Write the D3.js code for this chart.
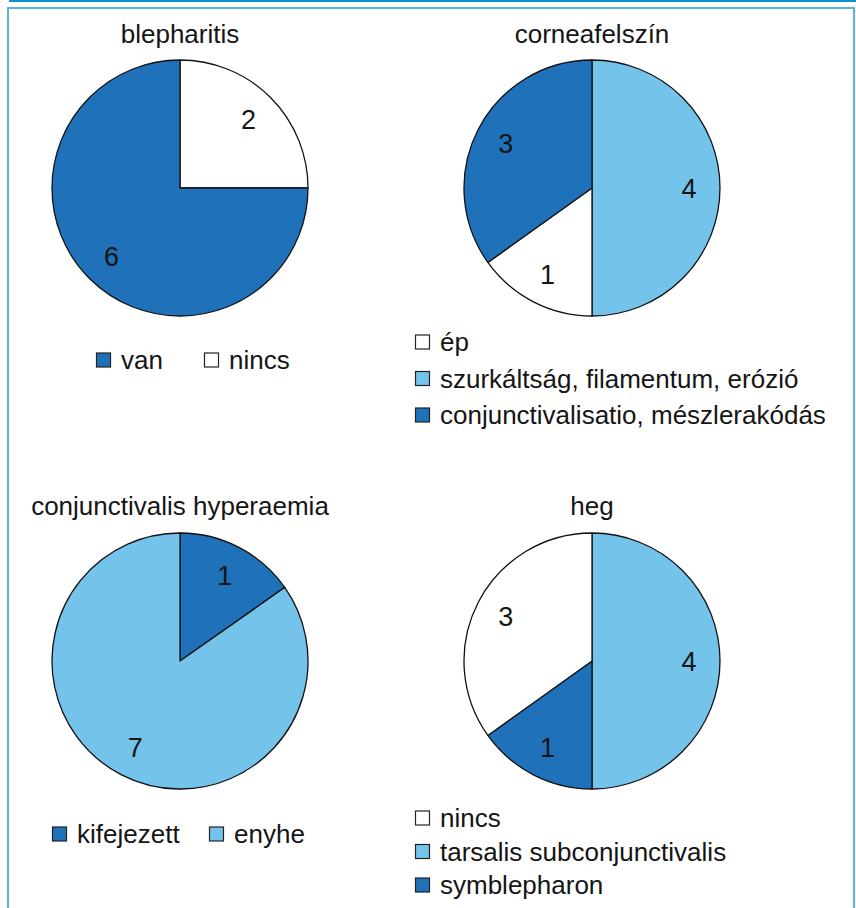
<!DOCTYPE html>
<html><head><meta charset="utf-8">
<script src="https://cdn.jsdelivr.net/npm/d3@7"></script>
<style>
body{margin:0;background:#fff}
svg{display:block}
text{font-family:"Liberation Sans",Arial,sans-serif;fill:#151515}
</style>
</head><body><script>
// ---- colours ----
const WHITE = "#ffffff", LIGHT = "#74c3eb", DARK = "#1f72b9";

// ---- data (slice order = clockwise from 12 o'clock) ----
const blephTitle = "blepharitis";
const blephCategories = ["nincs", "van"];
const blephCounts = [2, 6];
const blephShares = [2, 6];            // slice sizes as drawn in the picture
const blephColors = [WHITE, DARK];
const blephLegend = ["van", "nincs"];

const corneaTitle = "corneafelszín";
const corneaCategories = ["szurkáltság, filamentum, erózió", "ép", "conjunctivalisatio, mészlerakódás"];
const corneaCounts = [4, 1, 3];
const corneaShares = [4, 1.21, 2.79];
const corneaColors = [LIGHT, WHITE, DARK];
const corneaLegend = ["ép", "szurkáltság, filamentum, erózió", "conjunctivalisatio, mészlerakódás"];

const conjTitle = "conjunctivalis hyperaemia";
const conjCategories = ["kifejezett", "enyhe"];
const conjCounts = [1, 7];
const conjShares = [1.22, 6.78];
const conjColors = [DARK, LIGHT];
const conjLegend = ["kifejezett", "enyhe"];

const hegTitle = "heg";
const hegCategories = ["tarsalis subconjunctivalis", "symblepharon", "nincs"];
const hegCounts = [4, 1, 3];
const hegShares = [4, 1.21, 2.79];
const hegColors = [LIGHT, DARK, WHITE];
const hegLegend = ["nincs", "tarsalis subconjunctivalis", "symblepharon"];

// ---- layout ----
const W = 856, H = 908, R = 128;
const panels = [
  {title: blephTitle, cats: blephCategories, counts: blephCounts, shares: blephShares, colors: blephColors, legend: blephLegend,
   cx: 180, cy: 188, ty: 43, legendType: "row", lx: [96, 204], ly: 360},
  {title: corneaTitle, cats: corneaCategories, counts: corneaCounts, shares: corneaShares, colors: corneaColors, legend: corneaLegend,
   cx: 592, cy: 188, ty: 43, legendType: "col", lx: 415, ly: 342, lstep: 36.5},
  {title: conjTitle, cats: conjCategories, counts: conjCounts, shares: conjShares, colors: conjColors, legend: conjLegend,
   cx: 180, cy: 661, ty: 515, legendType: "row", lx: [52, 209], ly: 834},
  {title: hegTitle, cats: hegCategories, counts: hegCounts, shares: hegShares, colors: hegColors, legend: hegLegend,
   cx: 592, cy: 661, ty: 515, legendType: "col", lx: 415, ly: 818, lstep: 33.5}
];

const svg = d3.select("body").append("svg").attr("width", W).attr("height", H);

// frame
svg.append("rect").attr("x", 9).attr("y", 0).attr("width", W - 9).attr("height", 2).attr("fill", "#0e92cc");
svg.append("rect").attr("x", 8).attr("y", 8).attr("width", 846).attr("height", 960)
  .attr("fill", "none").attr("stroke", "#56b4de").attr("stroke-width", 2);

const arc = d3.arc().innerRadius(0).outerRadius(R);
const labelArc = d3.arc().innerRadius(97).outerRadius(97);

panels.forEach(p => {
  const rows = p.cats.map((c, i) => ({cat: c, count: p.counts[i], share: p.shares[i], color: p.colors[i]}));
  const pie = d3.pie().sort(null).value(d => d.share);
  const arcs = pie(rows);
  const color = d3.scaleOrdinal().domain(p.cats).range(p.colors);

  const g = svg.append("g").attr("transform", `translate(${p.cx},${p.cy})`);
  g.selectAll("path").data(arcs).join("path")
    .attr("d", arc)
    .attr("fill", d => color(d.data.cat))
    .attr("stroke", "#111").attr("stroke-width", 1.3).attr("stroke-linejoin", "round");
  g.selectAll("text").data(arcs).join("text")
    .attr("transform", d => `translate(${labelArc.centroid(d)})`)
    .attr("text-anchor", "middle").attr("dy", "0.36em")
    .attr("font-size", 27)
    .text(d => d.data.count);

  svg.append("text").attr("x", p.cx).attr("y", p.ty).attr("text-anchor", "middle")
    .attr("font-size", 26).text(p.title);

  p.legend.forEach((name, i) => {
    let x, y;
    if (p.legendType === "row") { x = p.lx[i]; y = p.ly; }
    else { x = p.lx; y = p.ly + i * p.lstep; }
    svg.append("rect").attr("x", x + 0.5).attr("y", y - 7).attr("width", 14).attr("height", 14)
      .attr("fill", color(name)).attr("stroke", "#222").attr("stroke-width", 1.2);
    svg.append("text").attr("x", x + 25).attr("y", y + 9).attr("font-size", 26).text(name);
  });
});
</script></body></html>
